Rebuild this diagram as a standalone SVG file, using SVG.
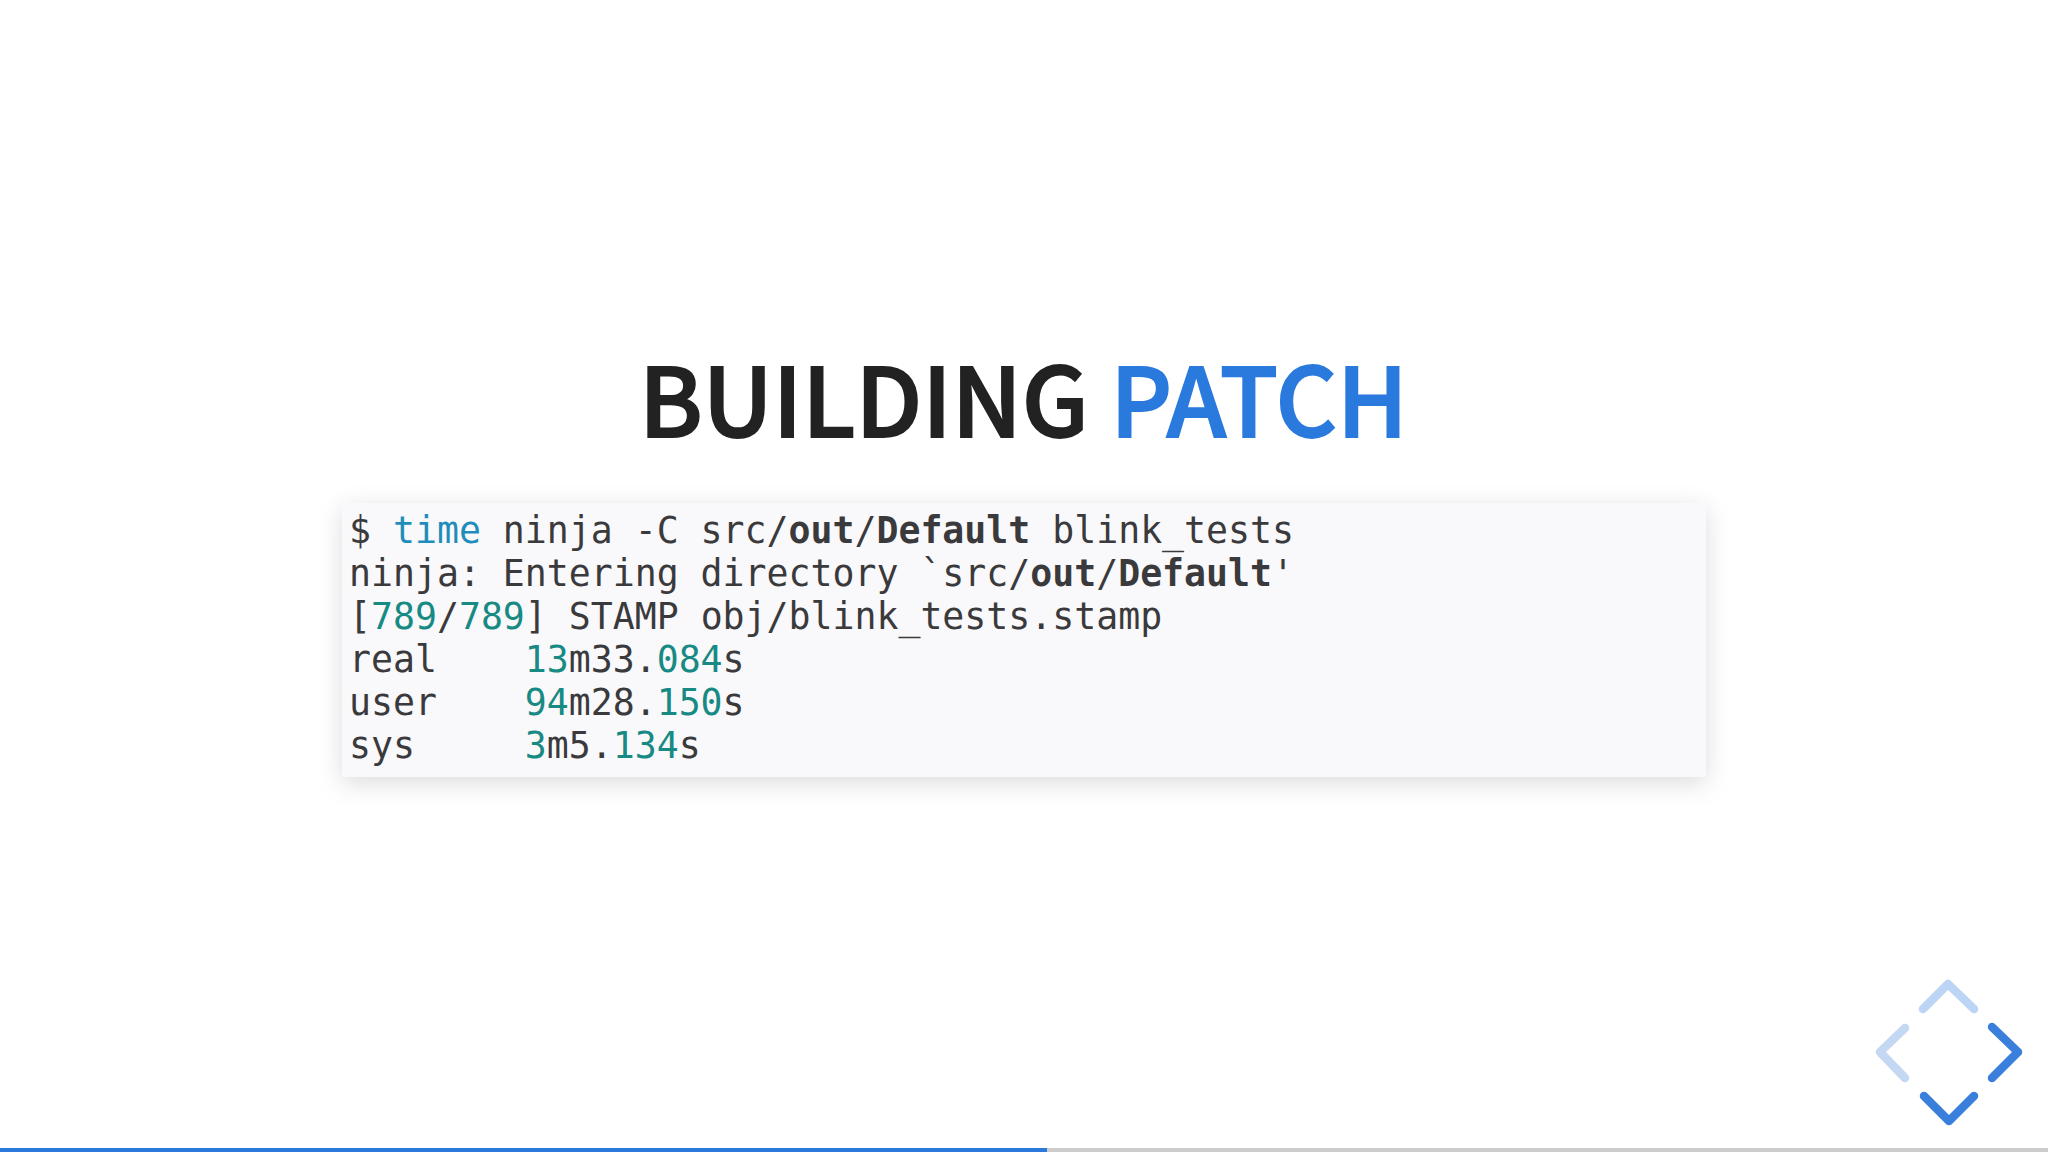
<svg xmlns="http://www.w3.org/2000/svg" width="2048" height="1152" viewBox="0 0 2048 1152">
<style>
.t{font-family:"Noto Sans CJK SC","Noto Sans",sans-serif;font-size:95.5px;font-weight:500;stroke-width:1.8px}
.c{font-family:"DejaVu Sans Mono",monospace;font-size:36.5px;fill:#3a3a3c;white-space:pre}
.n{fill:#178a84}.k{fill:#1f8dbb}.b{font-weight:700}
.ch{fill:none;stroke-width:8.5;stroke-linecap:round;stroke-linejoin:round}
</style>
<defs><filter id="s" x="-5%" y="-20%" width="110%" height="140%"><feDropShadow dx="0" dy="6" stdDeviation="12" flood-color="#000" flood-opacity=".14"/></filter></defs>
<rect width="2048" height="1152" fill="#fff"/>
<g id="title"><text class="t" x="639" y="437" fill="#222" stroke="#222"><tspan>BUILDING </tspan><tspan fill="#2a7ade" stroke="#2a7ade">PATCH</tspan></text></g>
<g id="code">
<rect x="342" y="503" width="1364" height="274" fill="#f9f8fa" filter="url(#s)"/>
<text class="c" x="349" y="543">$ <tspan class="k">time</tspan> ninja -C src/<tspan class="b">out</tspan>/<tspan class="b">Default</tspan> blink_tests</text>
<text class="c" x="349" y="586">ninja: Entering directory `src/<tspan class="b">out</tspan>/<tspan class="b">Default</tspan>'</text>
<text class="c" x="349" y="629">[<tspan class="n">789</tspan>/<tspan class="n">789</tspan>] STAMP obj/blink_tests.stamp</text>
<text class="c" x="349" y="672">real    <tspan class="n">13</tspan>m33.<tspan class="n">084</tspan>s</text>
<text class="c" x="349" y="715">user    <tspan class="n">94</tspan>m28.<tspan class="n">150</tspan>s</text>
<text class="c" x="349" y="758">sys     <tspan class="n">3</tspan>m5.<tspan class="n">134</tspan>s</text>
</g>
<g id="nav">
<path class="ch" stroke="#bcd5f5" d="M1923 1009L1948 984L1974 1009"/>
<path class="ch" stroke="#c4d7f3" d="M1905 1028L1880 1052L1905 1078"/>
<path class="ch" stroke="#3b7fdc" d="M1992 1027L2018 1052L1992 1078"/>
<path class="ch" stroke="#3b7fdc" d="M1924 1096L1949 1121L1974 1096"/>
</g>
<g id="progress">
<rect x="0" y="1148" width="2048" height="4" fill="#ccc"/>
<rect x="0" y="1148" width="1047" height="4" fill="#2a7ade"/>
</g>
</svg>
